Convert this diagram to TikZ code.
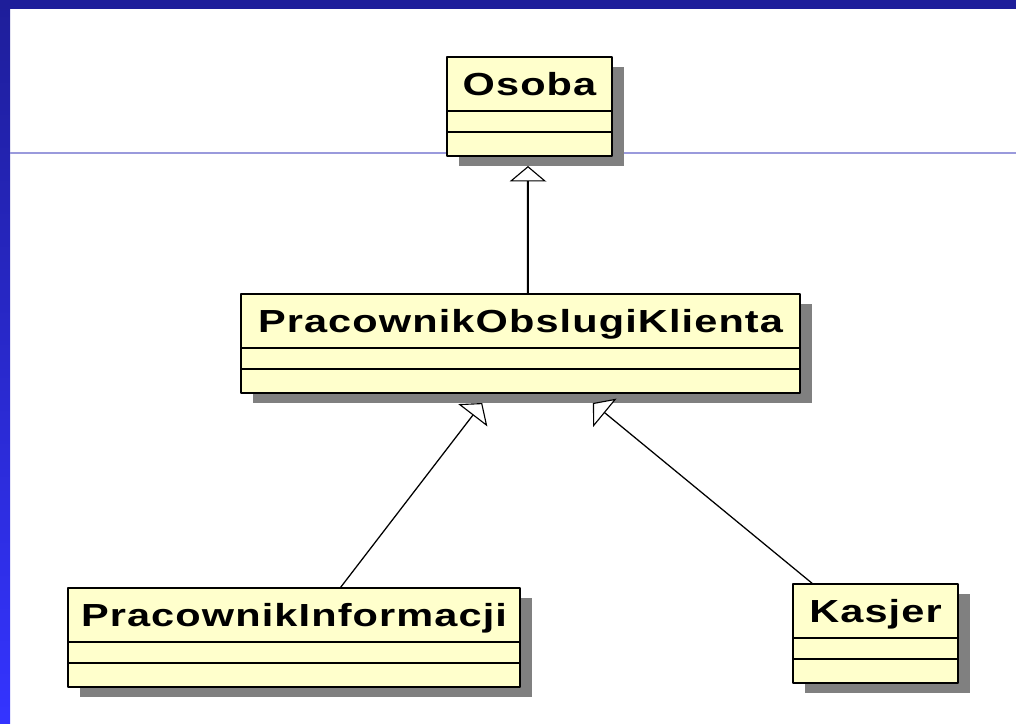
\documentclass[tikz,border=0pt]{standalone}
\usepackage{fontspec}
\newfontfamily\umlfont[FakeStretch=1.3,LetterSpace=3.5]{Liberation Sans}
\usetikzlibrary{arrows.meta,calc,positioning}
\definecolor{barblue}{HTML}{1E1E9A}
\definecolor{sideblue}{HTML}{3434FF}
\definecolor{classfill}{HTML}{FFFFCC}
\definecolor{shadowgray}{HTML}{808080}
\definecolor{ruleblue}{HTML}{9A9ADC}
\def\px{0.025cm}

\begin{document}
\begin{tikzpicture}[x=\px, y=-\px, line join=round,
	cls/.style={draw=black, line width=1.1pt, fill=classfill, anchor=north west,
		inner sep=0pt, outer sep=0pt},
	clsname/.style={cls, text height=17pt, text depth=1.3pt,
		font=\umlfont\bfseries\fontsize{22.7}{24}\selectfont},
	shadowbox/.style={fill=shadowgray, anchor=north west, inner sep=0pt, outer sep=0pt},
	gen/.style={line width=.9pt, -{Triangle[length=11pt, width=26pt, fill=white, line width=.8pt]}}]
	% tlo
	\useasboundingbox (0,0) rectangle (1016,723);
	\fill[white] (0,0) rectangle (1016,723);
	\shade[top color=barblue, bottom color=sideblue] (0,0) rectangle (10,723);
	\fill[barblue] (0,0) rectangle (1016,9);
	\draw[ruleblue, line width=1pt] (10,153) -- (1016,153);
	% klasy: nazwa/tekst/x/y/szerokosc
	\foreach \nm/\txt/\x/\y/\w in {osoba/Osoba/447/57/165,
		pok/PracownikObslugiKlienta/241/294/559,
		pi/PracownikInformacji/68/588/452,
		kasjer/Kasjer/793/584/165}{
		\node[shadowbox, minimum width=\w*\px, minimum height=99*\px] (\nm-s) at (\x+12,\y+10) {};
		\node[clsname, minimum width=\w*\px, minimum height=54*\px] (\nm) at (\x,\y) {\txt};
		\node[cls, minimum width=\w*\px, minimum height=21*\px, below=0pt of \nm] (\nm-a) {};
		\node[cls, minimum width=\w*\px, minimum height=24*\px, below=0pt of \nm-a] (\nm-o) {};
	}
	% dziedziczenie
	\draw[gen, line width=1.4pt] ($(pok.north west)!.513!(pok.north east)$) -- ($(osoba-s.south west)!.418!(osoba-s.south east)$);
	\draw[gen] ($(pi.north west)!.602!(pi.north east)$) -- ($(pok-s.south west)!.41!(pok-s.south east)$);
	\draw[gen] ($(kasjer.north west)!.121!(kasjer.north east)$) -- ($(pok-s.south west)!.608!(pok-s.south east)$);
\end{tikzpicture}
\end{document}
